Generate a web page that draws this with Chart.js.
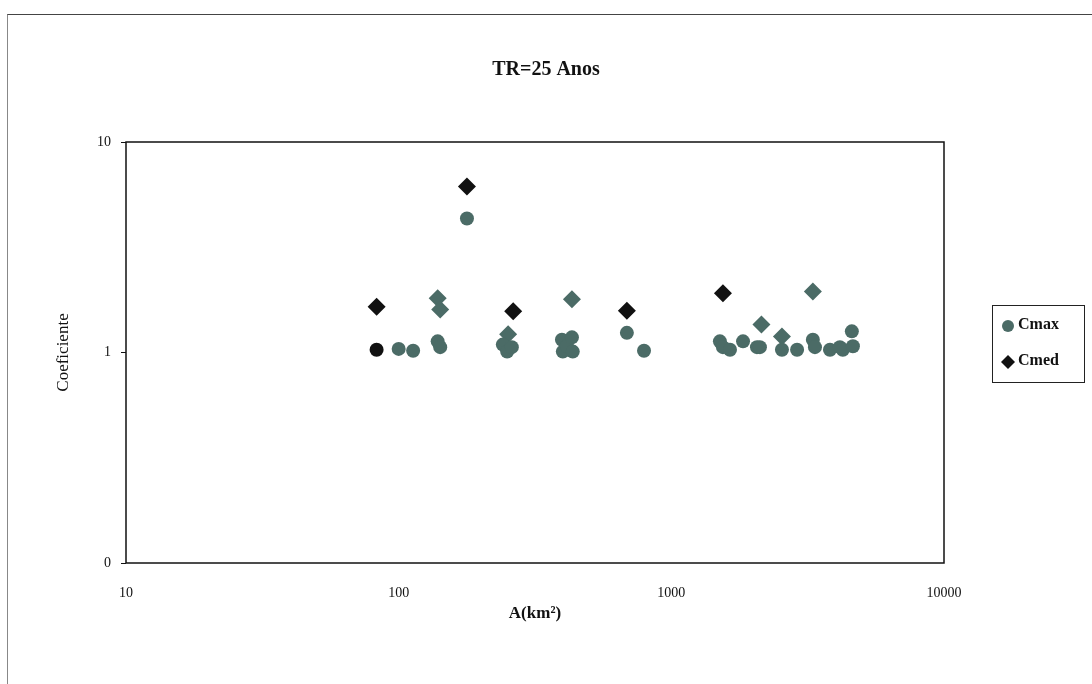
<!DOCTYPE html>
<html>
<head>
<meta charset="utf-8">
<script src="https://cdn.jsdelivr.net/npm/chart.js@4/dist/chart.umd.min.js"></script>
<style>
  html, body { margin: 0; padding: 0; background: #fff; }
  #wrap { position: relative; width: 1092px; height: 684px; }
  #frame { position: absolute; left: 7px; top: 14px; width: 1084px; height: 680px;
           border-top: 1px solid #444; border-left: 1px solid #888; }
  canvas { position: absolute; left: 0; top: 0; }
</style>
</head>
<body>
<div id="wrap">
  <div id="frame"></div>
  <canvas id="chart" width="1092" height="684"></canvas>
</div>
<script>
// x ticks (area, km2) and y ticks (coefficient)
const xTicks = [10, 100, 1000, 10000];
const yTicks = [0.1, 1, 10];
const yTickLabels = ["0", "1", "10"];

// Cmax - circles
const cmaxArea = [83, 100, 113, 139, 142, 178, 241, 250, 260, 397, 400, 414, 432, 435,
  687, 794, 1507, 1546, 1641, 1832, 2061, 2113, 2545, 2892, 3304, 3363, 3818, 4150, 4256, 4592, 4634];
const cmaxValue = [1.03, 1.04, 1.02, 1.13, 1.06, 4.33, 1.09, 1.01, 1.06, 1.15, 1.01, 1.07, 1.18, 1.01,
  1.24, 1.02, 1.13, 1.06, 1.03, 1.13, 1.06, 1.06, 1.03, 1.03, 1.15, 1.06, 1.03, 1.06, 1.03, 1.26, 1.07];

// Cmed - black diamonds
const cmedArea = [83, 178, 263, 687, 1546];
const cmedValue = [1.65, 6.15, 1.57, 1.58, 1.91];

// Cmed - grey diamonds (same series in the legend)
const cmed2Area = [139, 142, 252, 432, 2140, 2545, 3304];
const cmed2Value = [1.81, 1.60, 1.22, 1.79, 1.36, 1.19, 1.95];

const toPoints = (xs, ys) => xs.map((x, i) => ({ x: x, y: ys[i] }));

const GREY = "#4b6b66";
const BLACK = "#111111";
const SERIF = "'Liberation Serif', 'DejaVu Serif', serif";

// plot frame, title and boxed legend
const extras = {
  id: "extras",
  beforeDatasetsDraw(chart) {
    const { ctx, chartArea: a } = chart;
    ctx.save();
    ctx.strokeStyle = "#111";
    ctx.lineWidth = 1.5;
    ctx.strokeRect(a.left, a.top, a.right - a.left, a.bottom - a.top);
    ctx.restore();
  },
  afterDraw(chart) {
    const ctx = chart.ctx;
    ctx.save();
    ctx.fillStyle = "#111";
    ctx.font = "bold 20px " + SERIF;
    ctx.textAlign = "center";
    ctx.textBaseline = "middle";
    ctx.fillText("TR=25 Anos", 546, 70);

    // legend
    ctx.strokeStyle = "#222";
    ctx.lineWidth = 1;
    ctx.strokeRect(992.5, 305.5, 92, 77);
    const items = [
      { label: "Cmax", style: "circle", color: GREY, y: 325, r: 6 },
      { label: "Cmed", style: "rectRot", color: BLACK, y: 361, r: 7 }
    ];
    ctx.font = "bold 16px " + SERIF;
    ctx.textAlign = "left";
    items.forEach(it => {
      ctx.fillStyle = it.color;
      ctx.strokeStyle = it.color;
      Chart.helpers.drawPoint(ctx, { pointStyle: it.style, radius: it.r, borderWidth: 0 }, 1008, it.y + 1);
      ctx.fillStyle = "#111";
      ctx.fillText(it.label, 1018, it.y);
    });
    ctx.restore();
  }
};

new Chart(document.getElementById("chart"), {
  type: "scatter",
  data: {
    datasets: [
      {
        label: "Cmax",
        data: toPoints(cmaxArea, cmaxValue),
        pointStyle: "circle",
        pointRadius: 7,
        pointBorderWidth: 0,
        backgroundColor: ctx => (ctx.dataIndex === 0 ? BLACK : GREY),
        borderColor: ctx => (ctx.dataIndex === 0 ? BLACK : GREY)
      },
      {
        label: "Cmed",
        data: toPoints(cmedArea, cmedValue),
        pointStyle: "rectRot",
        pointRadius: 9,
        pointBorderWidth: 0,
        backgroundColor: BLACK,
        borderColor: BLACK
      },
      {
        label: "Cmed ",
        data: toPoints(cmed2Area, cmed2Value),
        pointStyle: "rectRot",
        pointRadius: 9,
        pointBorderWidth: 0,
        backgroundColor: GREY,
        borderColor: GREY
      }
    ]
  },
  options: {
    responsive: false,
    animation: false,
    layout: { padding: { left: 0, right: 148, top: 142, bottom: 0 } },
    plugins: {
      legend: { display: false },
      title: { display: false },
      tooltip: { enabled: false }
    },
    scales: {
      x: {
        type: "logarithmic",
        min: 10,
        max: 10000,
        afterFit: s => { s.height = 121; },
        afterBuildTicks: s => { s.ticks = xTicks.map(v => ({ value: v })); },
        grid: { drawOnChartArea: false, drawTicks: false },
        border: { display: false },
        ticks: {
          padding: 22,
          color: "#111",
          font: { family: SERIF, size: 14 },
          maxRotation: 0,
          callback: v => String(v)
        },
        title: {
          display: true,
          text: "A(km²)",
          color: "#111",
          font: { family: SERIF, size: 17, weight: "bold" },
          padding: 60
        }
      },
      y: {
        type: "logarithmic",
        min: 0.1,
        max: 10,
        afterFit: s => { s.width = 126; },
        afterBuildTicks: s => { s.ticks = yTicks.map(v => ({ value: v })); },
        grid: { drawOnChartArea: false, tickLength: 5, color: "#111" },
        border: { display: false },
        ticks: {
          padding: 10,
          color: "#111",
          font: { family: SERIF, size: 14 },
          callback: v => yTickLabels[yTicks.indexOf(v)]
        },
        title: {
          display: true,
          text: "Coeficiente",
          color: "#111",
          font: { family: SERIF, size: 17 },
          padding: 53
        }
      }
    }
  },
  plugins: [extras]
});
</script>
</body>
</html>
